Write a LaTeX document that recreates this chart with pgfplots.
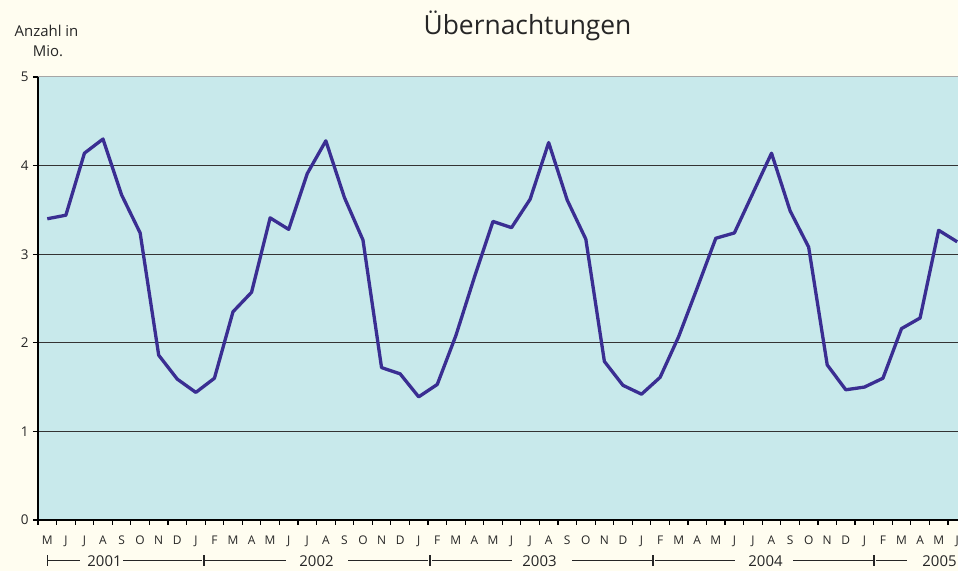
\documentclass[border=0pt]{standalone}
\usepackage{fontspec}
\setmainfont{Open Sans}
\usepackage{pgfplots}
\pgfplotsset{compat=1.18}
\definecolor{bgcream}{HTML}{FFFDF0}
\definecolor{plotbg}{HTML}{C8E9EB}
\definecolor{linecol}{HTML}{3A2E92}
\definecolor{txt}{HTML}{262626}
\begin{document}
\begin{tikzpicture}
\fill[bgcream] (0,0) rectangle (958bp,571bp);
\begin{axis}[
  at={(38bp,51bp)}, anchor=south west,
  scale only axis, width=928.5bp, height=443bp,
  xmin=-0.5, xmax=49.5, ymin=0, ymax=5,
  axis x line=bottom, axis y line=left,
  axis line style={-, black, line width=1.6bp},
  axis background/.style={fill=plotbg},
  tick align=outside, major tick length=5bp,
  tick style={black, line width=1.2bp},
  xtick={-0.5,0.5,...,49.5},
  x tick label as interval,
  xticklabels={M,J,J,A,S,O,N,D,
    J,F,M,A,M,J,J,A,S,O,N,D,
    J,F,M,A,M,J,J,A,S,O,N,D,
    J,F,M,A,M,J,J,A,S,O,N,D,
    J,F,M,A,M,J},
  xticklabel style={font=\fontsize{12}{14}\selectfont, text=txt, yshift=-7bp},
  ytick={0,...,5},
  yticklabel style={font=\fontsize{13.5}{16}\selectfont, text=txt, xshift=-1bp},
  /pgf/number format/assume math mode=true,
  ymajorgrids,
  major grid style={black!80, line width=1bp},
  clip=false,
]
\draw[gray!70, line width=1bp] (axis cs:-0.5,5) -- (axis cs:49.5,5);
\addplot[linecol, line width=3.3bp, line join=round, mark=none] coordinates {
(0,3.40) (1,3.44) (2,4.14) (3,4.30) (4,3.67) (5,3.24) (6,1.86) (7,1.59)
(8,1.44) (9,1.60) (10,2.35) (11,2.57) (12,3.41) (13,3.28) (14,3.91) (15,4.28)
(16,3.64) (17,3.16) (18,1.72) (19,1.65) (20,1.39) (21,1.53) (22,2.08) (23,2.74)
(24,3.37) (25,3.30) (26,3.62) (27,4.26) (28,3.61) (29,3.17) (30,1.79) (31,1.52)
(32,1.42) (33,1.61) (34,2.07) (35,2.62) (36,3.18) (37,3.24) (38,3.69) (39,4.14)
(40,3.49) (41,3.08) (42,1.75) (43,1.47) (44,1.50) (45,1.60) (46,2.16) (47,2.28)
(48,3.27) (49,3.14)
};
\end{axis}
% title and axis label
\node[anchor=base, text=txt, font=\fontsize{26.5}{30}\selectfont] at (527.5bp,536bp) {Übernachtungen};
\node[anchor=base, text=txt, font=\fontsize{15}{18}\selectfont] at (46.5bp,534bp) {Anzahl in};
\node[anchor=base, text=txt, font=\fontsize{15}{18}\selectfont] at (48bp,514bp) {Mio.};
% year row
\begin{scope}[txt, line width=0.9bp]
\foreach \a/\b in {48/80,123/202,205/286,348/428,432/512,572/652,655/735,793/873,876/907}
  \draw (\a bp,10.3bp) -- (\b bp,10.3bp);
\foreach \x in {47.3,204,430,653,874}
  \draw[line width=1.2bp] (\x bp,5bp) -- (\x bp,16bp);
\foreach \x/\y in {104.5/2001,316.5/2002,539.5/2003,765.5/2004,939.5/2005}
  \node[anchor=base, font=\fontsize{15}{18}\selectfont, inner sep=0pt] at (\x bp,4.3bp) {\y};
\end{scope}
\pgfresetboundingbox
\path[use as bounding box] (0,0) rectangle (958bp,571bp);
\end{tikzpicture}
\end{document}
